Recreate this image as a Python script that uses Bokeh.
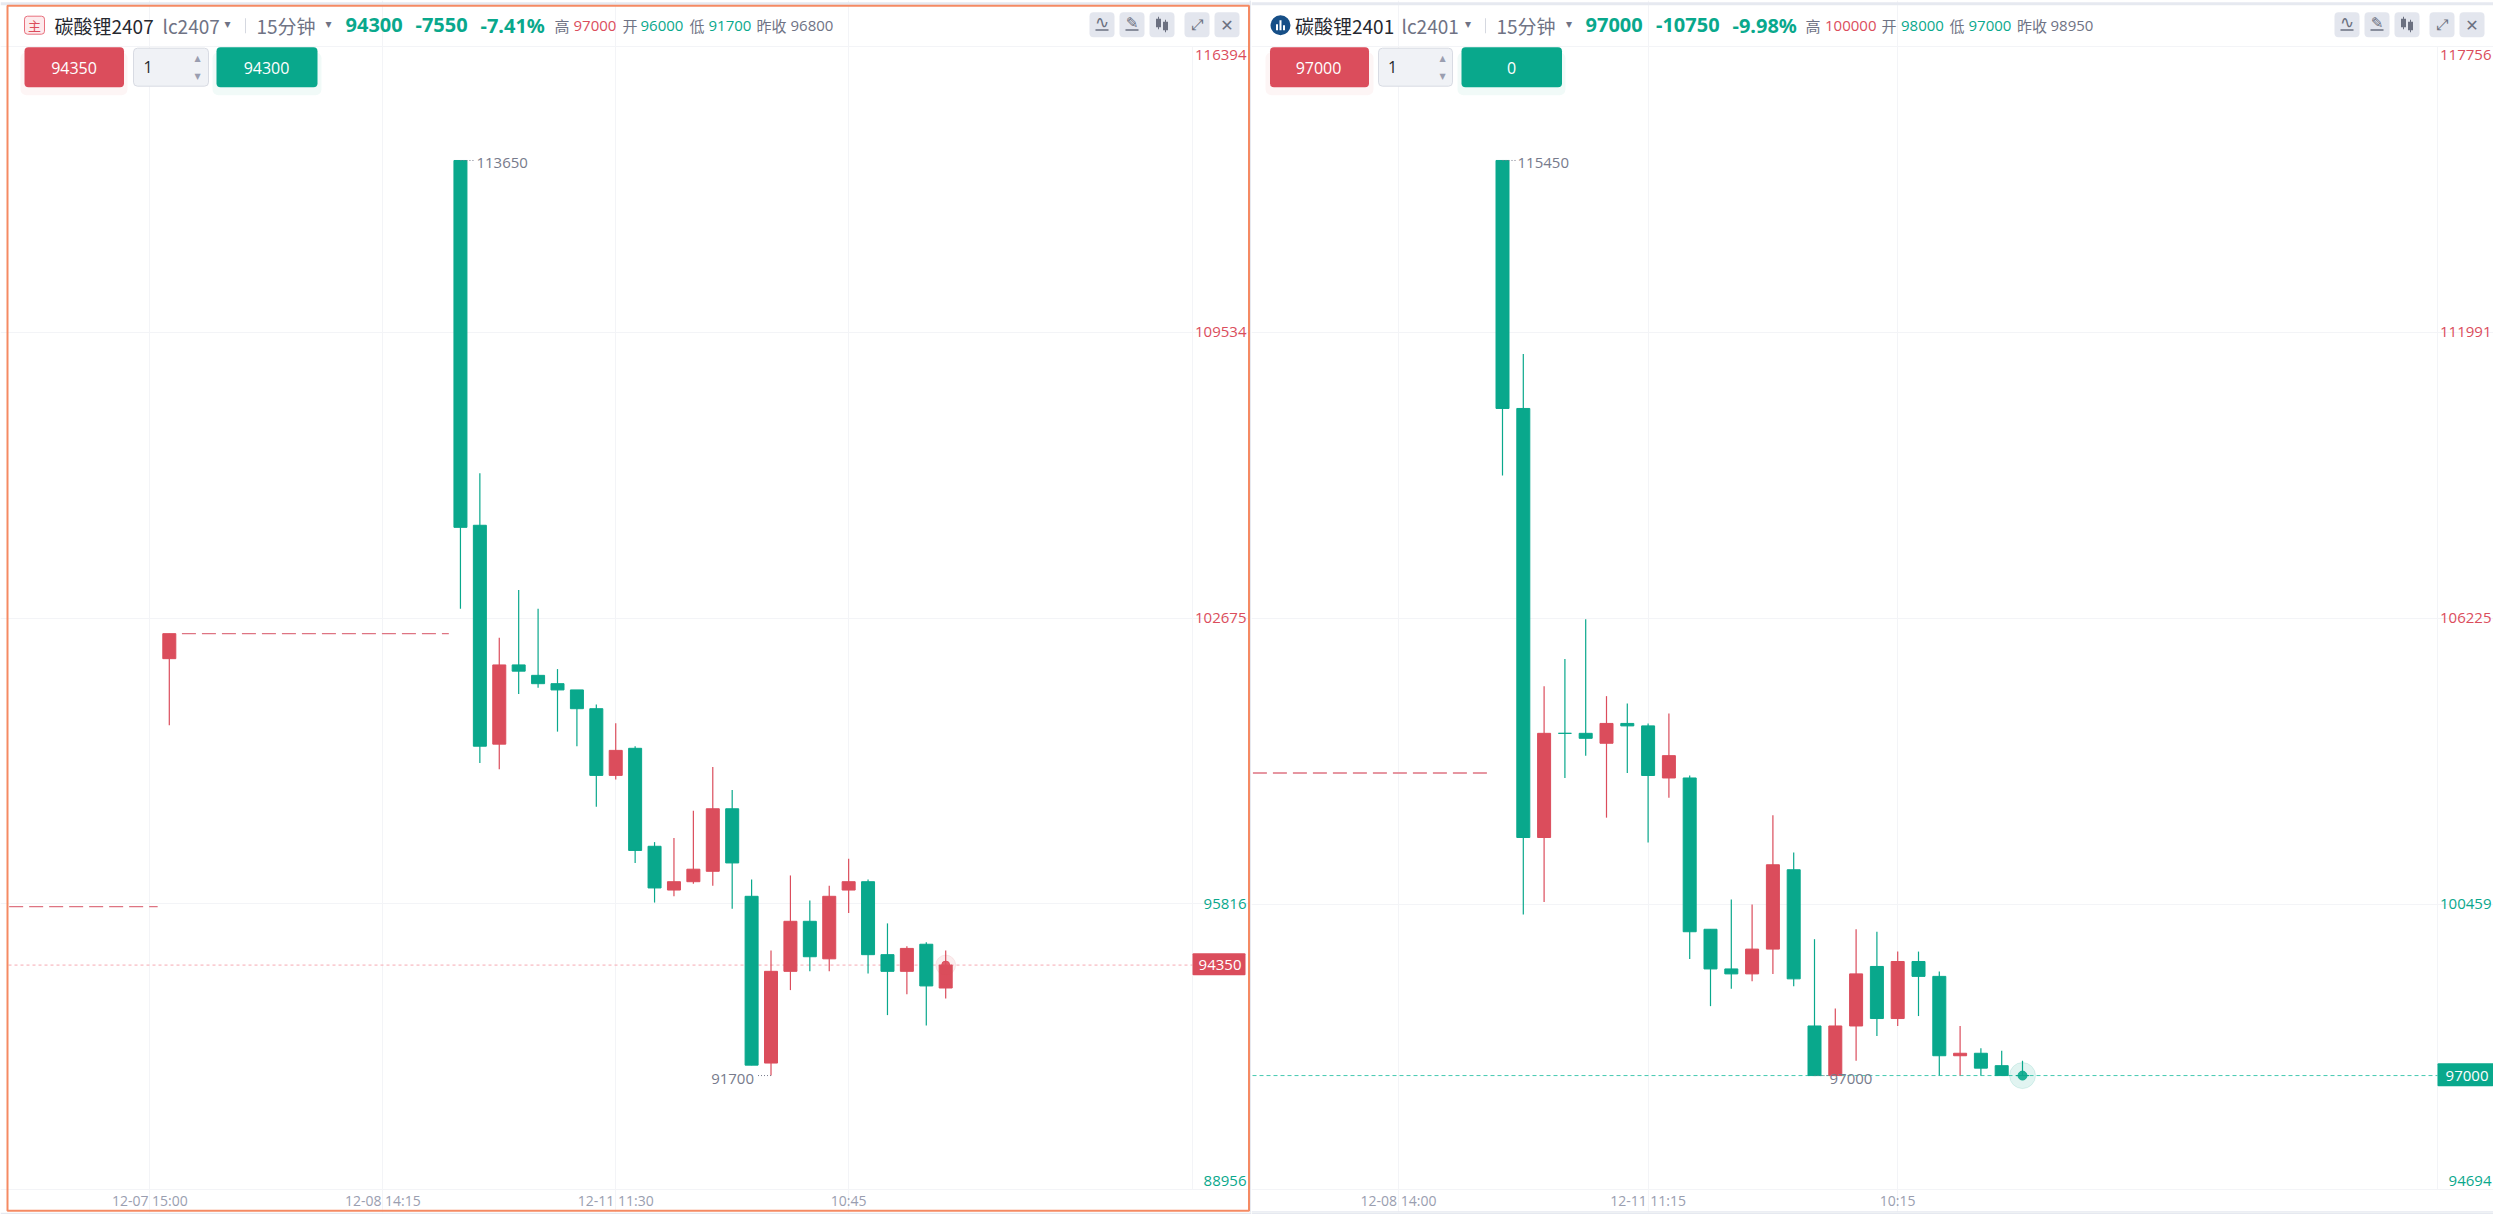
from bokeh.plotting import figure
from bokeh.layouts import row
from bokeh.models import BoxAnnotation, Label, Range1d, FixedTicker
from bokeh.core.properties import value
from bokeh.embed import file_html
from bokeh.resources import INLINE

GREEN = "#09a88c"
RED = "#db4d5c"
GRID = "#f3f4f7"
GREY = "#6f7385"

# ---- left contract -------------------------------------------------------
left_index = [0, 15, 16, 17, 18, 19, 20, 21, 22, 23, 24, 25, 26, 27, 28, 29, 30, 31, 32, 33, 34, 35, 36, 37, 38, 39, 40]
left_open = [101700, 113650, 104900, 99650, 101550, 101300, 101100, 100950, 100500, 98900, 99550, 97200, 96150, 96350, 96600, 98100, 96000, 92000, 94200, 95400, 94500, 96150, 96350, 94600, 94200, 94850, 93800]
left_close = [102300, 104850, 99600, 101550, 101400, 101100, 100950, 100500, 98900, 99500, 97100, 96200, 96350, 96650, 98100, 96800, 91950, 94200, 95400, 94550, 96000, 96350, 94600, 94200, 94750, 93850, 94350]
left_high = [102300, 113650, 106150, 102200, 103350, 102900, 101450, 100950, 100600, 100150, 99600, 97300, 97400, 98050, 99100, 98550, 96400, 94700, 96500, 95900, 96250, 96900, 96400, 95350, 94800, 94900, 94700]
left_low = [100100, 102900, 99200, 99050, 100850, 101000, 99950, 99600, 98150, 98800, 96800, 95850, 96000, 96300, 96250, 95700, 91950, 91700, 93750, 94200, 94200, 95600, 94150, 93150, 93650, 92900, 93550]
left_ticks = [116394, 109534, 102675, 95816, 88956]
left_tick_colors = [RED, RED, RED, GREEN, GREEN]
left_time_pos = [-1, 11, 23, 35]
left_time_labels = ["12-07 15:00", "12-08 14:15", "12-11 11:30", "10:45"]
left_gap_from = [-8.25, 0.65]
left_gap_to = [-0.6, 14.4]
left_gap_price = [95750, 102300]
left_last = 94350

# ---- right contract ------------------------------------------------------
right_index = list(range(26))
right_open = [115450, 110450, 101800, 103900, 103900, 103700, 104100, 104050, 103000, 103000, 99950, 99150, 99050, 99550, 101150, 98000, 97000, 98000, 99200, 98150, 99300, 99000, 97400, 97450, 97200, 97000]
right_close = [110450, 101800, 103900, 103900, 103800, 104100, 104050, 103050, 103450, 99900, 99150, 99050, 99550, 101250, 98950, 97000, 98000, 99050, 98150, 99300, 99000, 97400, 97450, 97150, 97000, 97000]
right_high = [115450, 111550, 104850, 105400, 106200, 104650, 104500, 104100, 104300, 103050, 99950, 100550, 100450, 102250, 101500, 99750, 98350, 99950, 99900, 99500, 99500, 99100, 98000, 97550, 97500, 97300]
right_low = [109100, 100250, 100500, 103000, 103450, 102200, 103100, 101700, 102600, 99350, 98400, 98750, 98900, 99050, 98800, 97000, 97000, 97300, 97800, 98000, 98200, 97000, 97000, 97000, 97000, 97000]
right_ticks = [117756, 111991, 106225, 100459, 94694]
right_tick_colors = [RED, RED, RED, GREEN, GREEN]
right_time_pos = [-5, 7, 19]
right_time_labels = ["12-08 14:00", "12-11 11:15", "10:15"]
right_gap_from = [-12]
right_gap_to = [-0.67]
right_gap_price = [103100]
right_last = 97000

TOP_PX, BOTTOM_PX, FRAME_BOTTOM, CHROME_BOTTOM = 45.5, 1187, 1209.5, 1212.3


class Panel:
    """Frame covers the whole panel so that the header and the price gutter can be drawn in it."""

    def __init__(self, X0, X1, plot_x0, plot_x1, cx0, slot, ticks, idx, o, c, h, l, tpos, tlabels):
        self.x0, self.cx0, self.slot = X0, cx0, slot
        self.fb = CHROME_BOTTOM
        k = (ticks[0] - ticks[-1]) / (BOTTOM_PX - TOP_PX)
        p = figure(width=X1 - X0, height=1214, output_backend="svg", toolbar_location=None,
                   x_range=Range1d(self.px(X0), self.px(X1)),
                   y_range=Range1d(ticks[-1] - (FRAME_BOTTOM - BOTTOM_PX) * k, ticks[0] + TOP_PX * k),
                   y_axis_location=None,
                   min_border_left=0, min_border_right=0, min_border_top=0, min_border_bottom=2,
                   background_fill_color="white", border_fill_color="#e6e9f0", outline_line_color=None)
        self.p = p
        self.plot_x0, self.plot_x1 = plot_x0, plot_x1
        xa = p.xaxis[0]
        xa.ticker = FixedTicker(ticks=tpos)
        xa.major_label_overrides = dict(zip(tpos, tlabels))
        xa.major_label_text_color = "#9a9eb0"
        xa.major_label_text_font = "Open Sans"
        xa.major_label_text_font_size = "14px"
        xa.major_label_standoff = -22
        xa.major_tick_out = 0
        xa.major_tick_in = 0
        xa.minor_tick_out = 0
        xa.minor_tick_in = 0
        xa.axis_line_color = None
        xa.major_tick_line_color = None
        xa.minor_tick_line_color = None
        p.xgrid.ticker = FixedTicker(ticks=tpos)
        p.ygrid.ticker = FixedTicker(ticks=ticks)
        p.xgrid.grid_line_color = GRID
        p.ygrid.grid_line_color = GRID
        p.xgrid.bounds = (ticks[-1], ticks[0])
        p.ygrid.bounds = (self.px(plot_x0), self.px(plot_x1))
        # price-gutter rule
        p.segment([self.px(plot_x1)], [ticks[-1]], [self.px(plot_x1)], [ticks[0]], line_color=GRID)
        self.idx, self.o, self.c, self.h, self.l = idx, o, c, h, l

    def px(self, x):
        return (x - self.cx0) / self.slot

    def last_line(self, price, color, dash):
        self.p.segment([self.px(self.plot_x0)], [price], [self.px(self.plot_x1)], [price],
                       line_color=color, line_dash=dash, line_width=1)

    def candles(self):
        p = self.p
        cols = [RED if b > a else GREEN for a, b in zip(self.o, self.c)]
        p.segment(self.idx, self.h, self.idx, self.l, line_color=cols, line_width=1.2)
        p.vbar(x=self.idx, top=[max(a, b) for a, b in zip(self.o, self.c)],
               bottom=[min(a, b) for a, b in zip(self.o, self.c)], width=13 / self.slot,
               fill_color=cols, line_color=cols, line_width=1)

    def box(self, x0, y0, x1, y1, fill, line=None, radius=0, alpha=1.0, lw=1):
        self.p.add_layout(BoxAnnotation(left=x0 - self.x0, right=x1 - self.x0,
                                        top=self.fb - y0, bottom=self.fb - y1,
                                        left_units="screen", right_units="screen",
                                        top_units="screen", bottom_units="screen",
                                        fill_color=fill, fill_alpha=alpha if fill else 0,
                                        line_color=line, line_alpha=1.0, line_width=lw, border_radius=radius))

    def txt(self, x, y, s, color, size, font="Open Sans", bold=False, align="left"):
        self.p.add_layout(Label(x=x - self.x0, y=self.fb - y, x_units="screen", y_units="screen",
                                text=s, text_color=color, text_font_size=f"{size}px", text_font=font,
                                text_font_style="bold" if bold else "normal",
                                text_align=align, text_baseline="middle"))

    def ytick(self, x, price, s, color, off):
        self.p.add_layout(Label(x=x - self.x0, y=price, x_units="screen", y_units="data", y_offset=off,
                                text=s, text_color=color, text_font_size="15px", text_font="Open Sans",
                                text_align="right", text_baseline="middle"))

    def icons(self, a0):
        """Five tool buttons; a0 is the left edge of the first one."""
        c = "#6b7080"
        spans = [0, 30, 60, 95, 125]
        for s in spans:
            self.box(a0 + s, 12, a0 + s + 25, 37, "#e3e6ee", radius=4)
        mid = [a0 + s + 12.5 for s in spans]
        self.txt(mid[0], 22, "\u223f", c, 17, font="DejaVu Sans", align="center")
        self.box(mid[0] - 6.5, 29, mid[0] + 6.5, 30.5, c)
        self.txt(mid[1], 23, "\u270e", c, 15, font="DejaVu Sans", align="center")
        self.box(mid[1] - 6.5, 29, mid[1] + 6.5, 30.5, c)
        self.box(mid[2] - 6, 18.5, mid[2] - 1, 27, c)
        self.box(mid[2] + 1, 21.5, mid[2] + 6, 30, c)
        self.box(mid[2] - 4, 16.5, mid[2] - 3, 29, c)
        self.box(mid[2] + 3, 19.5, mid[2] + 4, 32, c)
        self.txt(mid[3], 25, "\u2922", c, 15, font="DejaVu Sans", align="center")
        self.txt(mid[4], 25, "\u2715", c, 16, font="DejaVu Sans", align="center")

    def extreme(self, i, price, s, right=True, width=0.7, off=17):
        p = self.p
        x1 = i + width if right else i - width
        p.segment([i], [price], [x1], [price], line_color="#777b8c", line_dash="1 2", line_width=1)
        p.text([i], [price], text=[s], x_offset=off if right else -off, y_offset=3,
               text_color="#777b8c", text_font=value("Open Sans"), text_font_size="15px",
               text_align="left" if right else "right", text_baseline="middle")


GAP = "#de7482"

# ===== LEFT =====
L = Panel(0, 1251, 8, 1192, 168.8, 19.41, left_ticks, left_index, left_open, left_close,
          left_high, left_low, left_time_pos, left_time_labels)
p = L.p
p.segment(left_gap_from, left_gap_price, left_gap_to, left_gap_price, line_color=GAP, line_dash="14 6", line_width=1.3)
L.last_line(left_last, "#f6aab2", "3 3")
L.candles()
p.scatter([40], [left_last], size=20, color=RED, alpha=0.10)
p.scatter([40], [left_last], size=8, color=RED, alpha=0.9)
L.extreme(15, 113650, "113650", True, 0.7, 16)
L.extreme(31, 91700, "91700", False, 0.7, 17)

# chrome
L.box(0, 2, 1251, 5, "#e6e9f0")
L.box(1249, 0, 1251, 1214, "#e6e9f0")
L.box(7, 5.5, 1248.5, 1210.5, None, line="#f58a63", lw=2)
L.box(24, 16, 44, 34, "#fdeaec", line="#e8707d", radius=3)
L.txt(34, 25.5, "主", RED, 13, font="Noto Sans CJK SC", align="center")
L.txt(54, 25, "碳酸锂2407", "#26282f", 19, font="Noto Sans CJK SC")
L.txt(162, 25, "lc2407", GREY, 19, font="Noto Sans CJK SC")
L.txt(227, 24, "▾", GREY, 12, font="DejaVu Sans", align="center")
L.box(244.5, 18, 245.5, 33, "#d5d8e0")
L.txt(256, 25, "15分钟", GREY, 19, font="Noto Sans CJK SC")
L.txt(328, 24, "▾", GREY, 12, font="DejaVu Sans", align="center")
L.txt(345, 25, "94300", GREEN, 20, font="Noto Sans", bold=True)
L.txt(415, 25, "-7550", GREEN, 20, font="Noto Sans", bold=True)
L.txt(480, 25, "-7.41%", GREEN, 20, font="Noto Sans", bold=True)
for x, s, col in [(554, "高", GREY), (573, "97000", RED), (622, "开", GREY), (640, "96000", GREEN),
                  (689, "低", GREY), (708, "91700", GREEN), (756, "昨收", GREY), (790, "96800", GREY)]:
    L.txt(x, 25.5, s, col, 15, font="Noto Sans CJK SC" if ord(s[0]) > 255 else "Open Sans")
L.icons(1089)
L.box(20, 52, 127, 95, RED, radius=6, alpha=0.06)
L.box(24, 47, 123.5, 87, RED, radius=4)
L.txt(73.5, 68, "94350", "white", 16, align="center")
L.box(133, 48, 208, 86, "#f0f2f6", line="#d8dbe3", radius=4)
L.txt(147.5, 67, "1", "#26282f", 16, align="center")
L.txt(197, 58, "▲", "#9a9eb0", 8, font="DejaVu Sans", align="center")
L.txt(197, 76, "▼", "#9a9eb0", 8, font="DejaVu Sans", align="center")
L.box(212, 52, 321, 95, GREEN, radius=6, alpha=0.06)
L.box(216, 47, 317, 87, GREEN, radius=4)
L.txt(266, 68, "94300", "white", 16, align="center")
for t, col, off in zip(left_ticks, left_tick_colors, [-9, 0, 0, 0, 9]):
    L.ytick(1246, t, str(t), col, off)
L.box(1192, 953, 1245, 975, RED, radius=1)
L.ytick(1241, left_last, str(left_last), "white", 0)

# ===== RIGHT =====
R = Panel(1251, 2493, 1252, 2437, 1502, 20.8, right_ticks, right_index, right_open, right_close,
          right_high, right_low, right_time_pos, right_time_labels)
p = R.p
p.segment(right_gap_from, right_gap_price, right_gap_to, right_gap_price, line_color=GAP, line_dash="14 6", line_width=1.3)
R.last_line(right_last, "#45c9b1", "4 3")
R.candles()
p.scatter([25], [right_last], size=26, color=GREEN, alpha=0.12)
p.scatter([25], [right_last], size=9, color=GREEN, alpha=0.9)
R.extreme(0, 115450, "115450", True, 0.7, 15)
R.extreme(15, 97000, "97000", True, 0.7, 15)

R.box(1251, 2, 2493, 5, "#e6e9f0")
R.box(1251, 1211, 2493, 1214, "#e6e9f0")
R.box(1270, 15, 1290, 35, "#174f87", radius=10)
for a, t in [(1275.5, 24), (1279, 20), (1282.5, 25)]:
    R.box(a, t, a + 2, 30, "white")
R.txt(1294.5, 25, "碳酸锂2401", "#26282f", 19, font="Noto Sans CJK SC")
R.txt(1401, 25, "lc2401", GREY, 19, font="Noto Sans CJK SC")
R.txt(1467.5, 24, "▾", GREY, 12, font="DejaVu Sans", align="center")
R.box(1484.5, 18, 1485.5, 33, "#d5d8e0")
R.txt(1496, 25, "15分钟", GREY, 19, font="Noto Sans CJK SC")
R.txt(1568.5, 24, "▾", GREY, 12, font="DejaVu Sans", align="center")
R.txt(1585, 25, "97000", GREEN, 20, font="Noto Sans", bold=True)
R.txt(1655.5, 25, "-10750", GREEN, 20, font="Noto Sans", bold=True)
R.txt(1732, 25, "-9.98%", GREEN, 20, font="Noto Sans", bold=True)
for x, s, col in [(1805, "高", GREY), (1824.5, "100000", RED), (1881, "开", GREY), (1900.5, "98000", GREEN),
                  (1949, "低", GREY), (1968, "97000", GREEN), (2016.5, "昨收", GREY), (2050, "98950", GREY)]:
    R.txt(x, 25.5, s, col, 15, font="Noto Sans CJK SC" if ord(s[0]) > 255 else "Open Sans")
R.icons(2334)
R.box(1265, 52, 1373, 95, RED, radius=6, alpha=0.06)
R.box(1269.5, 47, 1368.5, 87, RED, radius=4)
R.txt(1318, 68, "97000", "white", 16, align="center")
R.box(1378, 48, 1452, 86, "#f0f2f6", line="#d8dbe3", radius=4)
R.txt(1392, 67, "1", "#26282f", 16, align="center")
R.txt(1442, 58, "▲", "#9a9eb0", 8, font="DejaVu Sans", align="center")
R.txt(1442, 76, "▼", "#9a9eb0", 8, font="DejaVu Sans", align="center")
R.box(1457, 52, 1565, 95, GREEN, radius=6, alpha=0.06)
R.box(1461, 47, 1561.5, 87, GREEN, radius=4)
R.txt(1511, 68, "0", "white", 16, align="center")
for t, col, off in zip(right_ticks, right_tick_colors, [-9, 0, 0, 0, 9]):
    R.ytick(2491, t, str(t), col, off)
R.box(2437, 1063, 2493, 1086, GREEN, radius=1)
R.ytick(2488, right_last, str(right_last), "white", 0)

page = row(L.p, R.p, spacing=0)
open("out.html", "w").write(file_html(page, INLINE))
